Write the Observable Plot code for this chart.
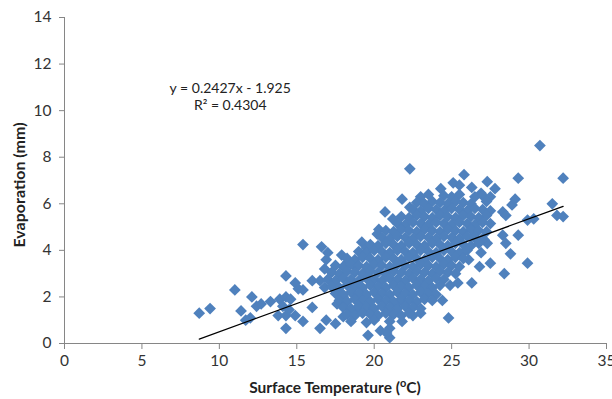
<!DOCTYPE html>
<html><head><meta charset="utf-8">
<script src="https://cdn.jsdelivr.net/npm/d3@7"></script>
<script src="https://cdn.jsdelivr.net/npm/@observablehq/plot@0.6"></script>
<style>html,body{margin:0;padding:0;background:#fff}svg{display:block}</style>
</head><body><div id="chart"></div>
<script>
// Surface temperature (°C) of each observation
const temperature = [
  8.7, 9.4, 11.0, 11.4, 11.7, 12.0, 12.1, 12.4, 12.7, 13.3,
  13.8, 13.9, 14.1, 14.3, 14.3, 14.3, 14.3, 14.6, 14.5, 14.9,
  14.9, 15.1, 15.4, 15.4, 15.4, 16.0, 16.0, 16.5, 16.5, 16.6,
  16.8, 16.8, 16.9, 16.9, 17.0, 17.5, 17.5, 17.6, 17.9, 18.0,
  18.0, 18.3, 18.7, 18.9, 19.2, 19.5, 19.6, 20.2, 20.3, 20.4,
  20.7, 21.0, 21.0, 21.2, 21.8, 21.8, 22.3, 22.3, 22.5, 23.0,
  23.0, 24.3, 24.4, 24.8, 24.9, 25.4, 25.5, 25.8, 25.9, 26.1,
  26.3, 26.3, 26.4, 26.8, 26.9, 26.9, 27.1, 27.3, 27.3, 27.5,
  27.8, 28.3, 28.3, 28.4, 28.5, 28.5, 28.8, 28.9, 29.1, 29.3,
  29.3, 29.9, 29.9, 30.3, 30.7, 31.5, 31.8, 32.2, 32.2, 20.8,
  21.6, 21.1, 25.1,
  23.0, 23.5, 24.5, 25.0, 25.5, 26.5, 27.0, 27.5,
  22.75, 23.25, 23.75, 24.25, 24.75, 25.25, 25.75, 26.25, 27.25,
  22.5, 23.0, 23.5, 24.0, 24.5, 25.0, 25.5, 26.0, 26.5, 27.0, 27.5,
  21.75, 22.25, 22.75, 23.25, 23.75, 24.25, 24.75, 25.25, 25.75, 26.25, 26.75, 27.25,
  21.5, 22.0, 22.5, 23.0, 23.5, 24.0, 24.5, 25.0, 25.5, 26.0, 26.5, 27.0, 27.5,
  20.75, 21.25, 21.75, 22.25, 22.75, 23.25, 23.75, 24.25, 24.75, 25.25, 25.75, 26.25, 26.75, 27.25,
  20.5, 21.0, 21.5, 22.0, 22.5, 23.0, 23.5, 24.0, 24.5, 25.0, 25.5, 26.0, 26.5, 27.0,
  19.75, 20.25, 20.75, 21.25, 21.75, 22.25, 22.75, 23.25, 23.75, 24.25, 24.75, 25.25, 25.75, 26.25, 26.75,
  19.0, 19.5, 20.0, 20.5, 21.0, 21.5, 22.0, 22.5, 23.0, 23.5, 24.0, 24.5, 25.0, 25.5, 26.0,
  18.25, 18.75, 19.25, 19.75, 20.25, 20.75, 21.25, 21.75, 22.25, 22.75, 23.25, 23.75, 24.25, 24.75, 25.25, 25.75,
  17.5, 18.0, 18.5, 19.0, 19.5, 20.0, 20.5, 21.0, 21.5, 22.0, 22.5, 23.0, 23.5, 24.0, 24.5, 25.0, 25.5,
  17.25, 17.75, 18.25, 18.75, 19.25, 19.75, 20.25, 20.75, 21.25, 21.75, 22.25, 22.75, 23.25, 23.75, 24.25, 24.75, 25.25,
  17.0, 17.5, 18.0, 18.5, 19.0, 19.5, 20.0, 20.5, 21.0, 21.5, 22.0, 22.5, 23.0, 23.5, 24.0, 24.5,
  17.25, 17.75, 18.25, 18.75, 19.25, 19.75, 20.25, 20.75, 21.25, 21.75, 22.25, 22.75, 23.25, 23.75, 24.25,
  17.5, 18.0, 18.5, 19.0, 19.5, 20.0, 20.5, 21.0, 21.5, 22.0, 22.5, 23.0, 23.5, 24.0,
  17.75, 18.25, 18.75, 19.25, 19.75, 20.25, 20.75, 21.25, 21.75, 22.25, 22.75, 23.25, 23.75,
  18.0, 18.5, 19.0, 19.5, 20.0, 20.5, 21.0, 21.5, 22.0, 22.5, 23.0,
  18.25, 18.75, 19.25, 19.75, 20.25, 20.75, 21.25, 21.75, 22.25,
  18.5, 19.5, 20.0, 21.0
];
// Evaporation (mm) of each observation
const evaporation = [
  1.3, 1.5, 2.3, 1.4, 1.0, 1.1, 2.0, 1.6, 1.7, 1.8,
  1.2, 1.9, 1.6, 2.0, 2.9, 1.2, 0.65, 1.9, 1.45, 2.6,
  1.2, 2.35, 2.3, 0.95, 4.25, 1.55, 2.7, 2.7, 0.65, 4.15,
  2.4, 3.2, 3.6, 1.0, 3.9, 2.3, 0.85, 1.7, 3.8, 2.0,
  1.15, 3.5, 3.35, 1.35, 4.35, 4.1, 0.35, 4.7, 4.9, 0.55,
  5.65, 0.65, 0.25, 5.35, 6.2, 0.95, 5.85, 7.5, 1.2, 1.3,
  6.15, 6.65, 1.85, 1.1, 2.5, 2.6, 6.8, 7.25, 4.0, 3.6,
  2.6, 6.7, 4.6, 3.3, 3.9, 6.45, 4.45, 4.3, 6.95, 3.45,
  6.65, 4.65, 5.65, 3.0, 4.3, 5.5, 3.85, 5.95, 6.2, 7.1,
  4.65, 3.45, 5.3, 5.35, 8.5, 6.0, 5.5, 7.1, 5.45, 0.45,
  1.8, 1.3, 6.9,
  6.3, 6.4, 6.35, 6.3, 6.4, 6.3, 6.35, 6.3,
  6.05, 6.0, 6.1, 6.05, 6.0, 6.1, 6.05, 6.0, 6.1,
  5.75, 5.7, 5.8, 5.75, 5.7, 5.8, 5.75, 5.7, 5.8, 5.75, 5.7,
  5.45, 5.4, 5.5, 5.45, 5.4, 5.5, 5.45, 5.4, 5.5, 5.45, 5.4, 5.5,
  5.15, 5.1, 5.2, 5.15, 5.1, 5.2, 5.15, 5.1, 5.2, 5.15, 5.1, 5.2, 5.15,
  4.85, 4.8, 4.9, 4.85, 4.8, 4.9, 4.85, 4.8, 4.9, 4.85, 4.8, 4.9, 4.85, 4.8,
  4.55, 4.5, 4.6, 4.55, 4.5, 4.6, 4.55, 4.5, 4.6, 4.55, 4.5, 4.6, 4.55, 4.5,
  4.25, 4.2, 4.3, 4.25, 4.2, 4.3, 4.25, 4.2, 4.3, 4.25, 4.2, 4.3, 4.25, 4.2, 4.3,
  3.95, 3.9, 4.0, 3.95, 3.9, 4.0, 3.95, 3.9, 4.0, 3.95, 3.9, 4.0, 3.95, 3.9, 4.0,
  3.65, 3.6, 3.7, 3.65, 3.6, 3.7, 3.65, 3.6, 3.7, 3.65, 3.6, 3.7, 3.65, 3.6, 3.7, 3.65,
  3.35, 3.3, 3.4, 3.35, 3.3, 3.4, 3.35, 3.3, 3.4, 3.35, 3.3, 3.4, 3.35, 3.3, 3.4, 3.35, 3.3,
  3.05, 3.0, 3.1, 3.05, 3.0, 3.1, 3.05, 3.0, 3.1, 3.05, 3.0, 3.1, 3.05, 3.0, 3.1, 3.05, 3.0,
  2.75, 2.7, 2.8, 2.75, 2.7, 2.8, 2.75, 2.7, 2.8, 2.75, 2.7, 2.8, 2.75, 2.7, 2.8, 2.75,
  2.45, 2.4, 2.5, 2.45, 2.4, 2.5, 2.45, 2.4, 2.5, 2.45, 2.4, 2.5, 2.45, 2.4, 2.5,
  2.15, 2.1, 2.2, 2.15, 2.1, 2.2, 2.15, 2.1, 2.2, 2.15, 2.1, 2.2, 2.15, 2.1,
  1.85, 1.8, 1.9, 1.85, 1.8, 1.9, 1.85, 1.8, 1.9, 1.85, 1.8, 1.9, 1.85,
  1.55, 1.5, 1.6, 1.55, 1.5, 1.6, 1.55, 1.5, 1.6, 1.55, 1.5,
  1.25, 1.2, 1.3, 1.25, 1.2, 1.3, 1.25, 1.2, 1.3,
  0.95, 0.9, 1.0, 0.95
];
const xTicks = [0, 5, 10, 15, 20, 25, 30, 35];
const yTicks = [0, 2, 4, 6, 8, 10, 12, 14];
const trendSlope = 0.2427;
const trendIntercept = -1.925;
const equationLines = ["y = 0.2427x - 1.925", "R² = 0.4304"];
const xTitle = "Surface Temperature (", xTitleSup = "o", xTitleEnd = "C)";
const yTitle = "Evaporation (mm)";

const points = temperature.map((t, i) => ({t, e: evaporation[i]}));
const tExtent = d3.extent(temperature);
const trend = tExtent.map(t => ({t, e: trendSlope * t + trendIntercept}));

const axisGray = "#868686";
const chart = Plot.plot({
  width: 612, height: 399,
  marginLeft: 64, marginRight: 6, marginTop: 17, marginBottom: 56,
  style: {fontFamily: "Lato, sans-serif", fontSize: "15px", color: "#333", background: "#fff"},
  x: {domain: [0, 35]},
  y: {domain: [0, 14]},
  marks: [
    Plot.axisX({ticks: xTicks, tickSize: 6, tickPadding: 5, stroke: axisGray, fill: "#333", label: null, fontSize: 15.5}),
    Plot.axisY({ticks: yTicks, tickSize: 5, tickPadding: 8, stroke: axisGray, fill: "#333", label: null, fontSize: 15.5}),
    Plot.dot(points, {x: "t", y: "e", symbol: "diamond2", r: 5.3, fill: "#4F81BD", stroke: "none"}),
    Plot.ruleY([0], {stroke: axisGray}),
    Plot.ruleX([0], {stroke: axisGray}),
    Plot.line(trend, {x: "t", y: "e", stroke: "#000", strokeWidth: 1.2}),
    Plot.text([equationLines.join("\n")], {x: 10.7, y: 10.62, text: d => d, textAnchor: "middle", lineHeight: 1.2, fontSize: 14, fill: "#222"})
  ]
});
document.getElementById("chart").append(chart);

const svg = d3.select(chart);
const xt = svg.append("text").attr("x", 335).attr("y", 393).attr("text-anchor", "middle")
  .attr("font-family", "Lato, sans-serif").attr("font-weight", "bold").attr("font-size", 15.5).attr("fill", "#222");
xt.append("tspan").text(xTitle);
xt.append("tspan").attr("dy", -6).attr("font-size", 11).text(xTitleSup);
xt.append("tspan").attr("dy", 6).text(xTitleEnd);
svg.append("text").attr("transform", "translate(25,185) rotate(-90)").attr("text-anchor", "middle")
  .attr("font-family", "Lato, sans-serif").attr("font-weight", "bold").attr("font-size", 16).attr("fill", "#222")
  .text(yTitle);
</script>
</body></html>
